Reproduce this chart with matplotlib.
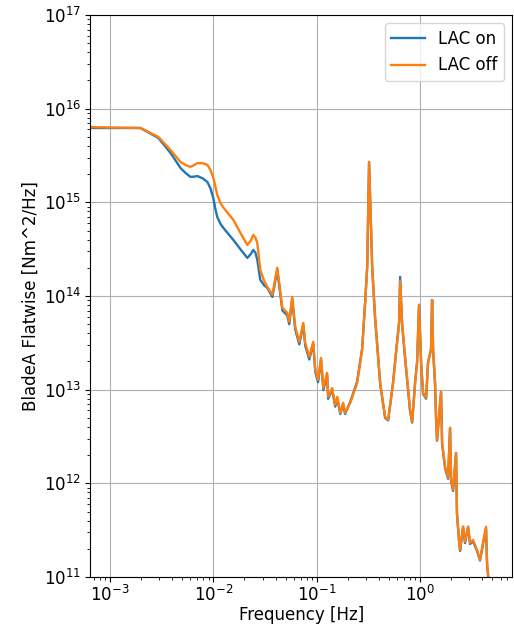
import matplotlib
matplotlib.use("Agg")
import matplotlib.pyplot as plt

# Low-frequency part (curves differ)
freq_low = [5.0e-4, 1.97e-3, 2.94e-3, 3.85e-3, 4.80e-3, 5.40e-3, 6.00e-3, 6.50e-3, 7.00e-3,
            7.90e-3, 8.75e-3, 9.40e-3, 1.00e-2, 1.05e-2, 1.09e-2, 1.17e-2, 1.25e-2, 1.56e-2,
            1.85e-2, 2.13e-2, 2.30e-2, 2.43e-2, 2.55e-2, 2.66e-2, 2.84e-2, 3.10e-2,
            3.33e-2, 3.72e-2]
on_low = [6.22e15, 6.22e15, 4.86e15, 3.37e15, 2.33e15, 2.05e15, 1.87e15, 1.88e15, 1.91e15,
          1.80e15, 1.65e15, 1.40e15, 1.10e15, 8.3e14, 6.98e14, 5.9e14, 5.33e14, 3.97e14,
          3.1e14, 2.55e14, 2.8e14, 3.10e14, 2.9e14, 2.43e14, 1.49e14, 1.3e14,
          1.22e14, 9.77e13]
off_low = [6.38e15, 6.22e15, 4.99e15, 3.62e15, 2.70e15, 2.50e15, 2.39e15, 2.50e15, 2.62e15,
           2.62e15, 2.51e15, 2.20e15, 1.82e15, 1.45e15, 1.2e15, 9.86e14, 8.8e14, 6.49e14,
           4.6e14, 3.51e14, 3.9e14, 4.49e14, 4.2e14, 3.69e14, 1.90e14, 1.45e14,
           1.25e14, 1.03e14]

# Higher-frequency part (curves nearly identical)
freq_high = [4.15e-2, 4.65e-2, 5.19e-2, 5.42e-2, 5.79e-2, 6.19e-2, 6.78e-2, 7.41e-2,
             7.74e-2, 8.47e-2, 9.25e-2, 9.68e-2, 0.103, 0.110, 0.116, 0.126, 0.129,
             0.141, 0.151, 0.158, 0.169, 0.180, 0.188, 0.211, 0.246, 0.275, 0.294,
             0.308, 0.321, 0.344, 0.367, 0.411, 0.459, 0.491, 0.548, 0.600, 0.627,
             0.641, 0.670, 0.716, 0.800, 0.838, 0.895, 0.935, 0.977, 1.023, 1.069,
             1.143, 1.194, 1.276, 1.306, 1.337, 1.396, 1.430, 1.459, 1.596, 1.633,
             1.746, 1.866, 1.950, 1.995, 2.084, 2.228, 2.275, 2.382, 2.438, 2.606,
             2.723, 2.911, 3.041, 3.251, 3.556, 3.802, 4.064, 4.345, 4.446, 4.539,
             4.742, 5.5]
off_high = [2.00e14, 7.46e13, 6.61e13, 5.30e13, 9.77e13, 4.68e13, 3.24e13, 5.16e13,
            3.16e13, 2.24e13, 3.24e13, 1.63e13, 1.27e13, 2.18e13, 1.04e13, 1.51e13, 8.38e12,
            1.04e13, 6.89e12, 8.38e12, 5.65e12, 7.23e12, 5.65e12, 7.23e12, 1.18e13, 2.66e13, 8.44e13,
            2.05e14, 2.70e15, 2.05e14, 5.98e13, 1.18e13, 5.13e12, 4.76e12, 1.18e13, 3.24e13, 5.16e13,
            1.45e14, 5.16e13, 2.24e13, 6.08e12, 4.53e12, 1.18e13, 1.93e13, 8.04e13, 1.93e13, 9.25e12,
            8.17e12, 1.93e13, 2.66e13, 9.08e13, 2.66e13, 1.18e13, 4.76e12, 2.91e12, 9.48e12, 2.70e12,
            1.50e12, 1.15e12, 3.91e12, 1.09e12, 8.53e11, 2.11e12, 4.84e11, 2.49e11, 1.95e11, 3.44e11,
            2.38e11, 3.44e11, 2.32e11, 2.49e11, 1.95e11, 1.53e11, 2.32e11, 3.44e11, 1.42e11, 1.11e11,
            5.0e10, 3.0e10]
on_high = [1.90e14, 7.0e13, 6.2e13, 5.0e13, 9.3e13, 4.4e13, 3.05e13, 4.9e13,
           2.95e13, 2.1e13, 3.1e13, 1.55e13, 1.2e13, 2.1e13, 9.9e12, 1.45e13, 8.0e12,
           1.0e13, 6.6e12, 8.1e12, 5.5e12, 7.0e12, 5.5e12, 7.4e12, 1.22e13, 2.75e13, 8.6e13,
           2.1e14, 2.70e15, 2.0e14, 5.8e13, 1.15e13, 5.0e12, 4.7e12, 1.2e13, 3.3e13, 5.3e13,
           1.60e14, 5.0e13, 2.15e13, 5.9e12, 4.45e12, 1.2e13, 1.97e13, 8.04e13, 1.9e13, 9.0e12,
           8.0e12, 1.95e13, 2.7e13, 9.08e13, 2.6e13, 1.15e13, 4.6e12, 2.85e12, 9.48e12, 2.65e12,
           1.45e12, 1.12e12, 3.91e12, 1.06e12, 8.3e11, 2.11e12, 4.7e11, 2.42e11, 1.9e11, 3.44e11,
           2.3e11, 3.44e11, 2.25e11, 2.4e11, 1.9e11, 1.5e11, 2.25e11, 3.3e11, 1.38e11, 1.08e11,
           5.0e10, 3.0e10]

freq = freq_low + freq_high
lac_on = on_low + on_high
lac_off = off_low + off_high

plt.rcParams["font.size"] = 12
fig = plt.figure(figsize=(5.14, 6.26), dpi=100)
ax = fig.add_axes([0.1751, 0.0783, 0.997 - 0.1751, 0.976 - 0.0783])
ax.loglog(freq, lac_on, color="#1f77b4", lw=1.7, label="LAC on")
ax.loglog(freq, lac_off, color="#ff7f0e", lw=1.7, label="LAC off")
ax.set_xlim(6.4e-4, 7.83)
ax.set_ylim(1e11, 1e17)
ax.grid(True, which="major")
ax.tick_params(axis="x", which="both", pad=2)
ax.tick_params(axis="y", which="both", pad=3)
ax.set_xlabel("Frequency [Hz]", labelpad=1)
ax.set_ylabel("BladeA Flatwise [Nm^2/Hz]", labelpad=3)
ax.legend(loc="upper right")
fig.savefig("out.png", dpi=100)
